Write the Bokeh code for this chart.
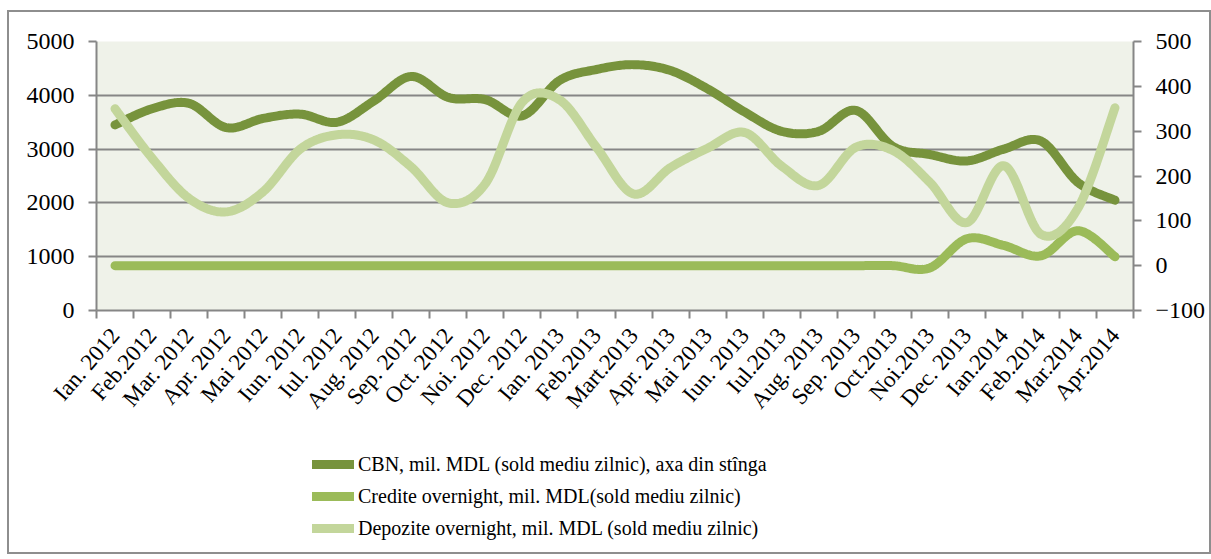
import numpy as np
from bokeh.plotting import figure
from bokeh.layouts import column
from bokeh.models import (Range1d, LinearAxis, FixedTicker, CustomJSTickFormatter,
                          Legend, LegendItem)
from bokeh.embed import file_html
from bokeh.resources import INLINE

months = ["Ian. 2012", "Feb.2012", "Mar. 2012", "Apr. 2012", "Mai 2012", "Iun. 2012",
          "Iul. 2012", "Aug. 2012", "Sep. 2012", "Oct. 2012", "Noi. 2012", "Dec. 2012",
          "Ian. 2013", "Feb.2013", "Mart.2013", "Apr. 2013", "Mai 2013", "Iun. 2013",
          "Iul.2013", "Aug. 2013", "Sep. 2013", "Oct.2013", "Noi.2013", "Dec. 2013",
          "Ian.2014", "Feb.2014", "Mar.2014", "Apr.2014"]

cbn = [3450, 3750, 3850, 3400, 3570, 3650, 3500, 3900, 4350, 3960, 3920, 3620,
       4275, 4480, 4570, 4460, 4120, 3690, 3330, 3330, 3720, 3050, 2900, 2780,
       3000, 3150, 2380, 2050]
credite = [0, 0, 0, 0, 0, 0, 0, 0, 0, 0, 0, 0,
           0, 0, 0, 0, 0, 0, 0, 0, 0, 0, -5, 60,
           45, 22, 78, 20]
depozite = [350, 240, 150, 120, 165, 260, 292, 280, 220, 140, 183, 365,
            370, 264, 160, 219, 262, 297, 222, 179, 264, 257, 186, 96,
            223, 70, 128, 352]

names = ["CBN, mil. MDL (sold mediu zilnic), axa din stînga",
         "Credite overnight, mil. MDL(sold mediu zilnic)",
         "Depozite overnight, mil. MDL (sold mediu zilnic)"]
colors = ["#77933c", "#9bbb59", "#c3d69b"]

FONT = "Liberation Serif"
GRAY = "#868686"
W = 1200


def smooth(xs, ys, n=24):
    xs = np.asarray(xs, float)
    ys = np.asarray(ys, float)
    P = np.column_stack([xs, ys])
    Pe = np.vstack([P[0], P, P[-1]])
    out = []
    t = np.linspace(0, 1, n)[:, None]
    for i in range(len(P) - 1):
        p0 = Pe[i + 1]
        p3 = Pe[i + 2]
        c1 = p0 + (Pe[i + 2] - Pe[i]) / 6.0
        c2 = p3 - (Pe[i + 3] - Pe[i + 1]) / 6.0
        seg = ((1 - t) ** 3) * p0 + 3 * ((1 - t) ** 2) * t * c1 + 3 * (1 - t) * t ** 2 * c2 + t ** 3 * p3
        out.append(seg if i == 0 else seg[1:])
    s = np.vstack(out)
    return s[:, 0], s[:, 1]


n = len(months)
xc = [i + 0.5 for i in range(n)]

p = figure(width=W, height=428, output_backend="svg", toolbar_location=None,
           x_range=Range1d(0, n), y_range=Range1d(0, 5000),
           x_axis_location=None, y_axis_location=None,
           min_border_left=87, min_border_right=W - 87 - 1037, min_border_top=29,
           min_border_bottom=130)
p.extra_y_ranges = {"right": Range1d(-100, 500)}
p.background_fill_color = "#eff2e9"
p.outline_line_color = None

yl = LinearAxis(ticker=FixedTicker(ticks=[0, 1000, 2000, 3000, 4000, 5000]))
yr = LinearAxis(y_range_name="right", ticker=FixedTicker(ticks=list(range(-100, 501, 100))))
xa = LinearAxis(ticker=FixedTicker(ticks=xc, minor_ticks=list(range(n + 1))),
                formatter=CustomJSTickFormatter(args=dict(labels=months),
                                                code="return labels[Math.floor(tick)] || '';"))
for ax in (yl, yr, xa):
    ax.axis_line_color = GRAY
    ax.axis_line_width = 2
    ax.major_tick_line_color = GRAY
    ax.major_tick_line_width = 2
    ax.major_tick_in = 0
    ax.major_tick_out = 8
    ax.minor_tick_line_color = None
    ax.major_label_text_font = FONT
    ax.major_label_text_font_size = "24px"
    ax.major_label_text_color = "#000000"
    ax.major_label_standoff = 14
xa.major_tick_line_color = None
xa.minor_tick_line_color = GRAY
xa.minor_tick_line_width = 2
xa.minor_tick_in = 0
xa.minor_tick_out = 8
xa.major_label_text_font_size = "23px"
xa.major_label_orientation = 0.86
xa.major_label_standoff = 13
p.add_layout(yl, "left")
p.add_layout(yr, "right")
p.add_layout(xa, "below")

p.xgrid.visible = False
p.ygrid.ticker = FixedTicker(ticks=[0, 1000, 2000, 3000, 4000, 5000])
p.ygrid.grid_line_color = GRAY
p.ygrid.grid_line_width = 2

sx, sy = smooth(xc, cbn)
p.line(sx, sy, line_color=colors[0], line_width=9, line_cap="round", line_join="round")
sx, sy = smooth(xc, credite)
p.line(sx, sy, line_color=colors[1], line_width=9, line_cap="round", line_join="round",
       y_range_name="right")
sx, sy = smooth(xc, depozite)
p.line(sx, sy, line_color=colors[2], line_width=9, line_cap="round", line_join="round",
       y_range_name="right")

# legend panel (separate strip under the chart)
p2 = figure(width=W, height=112, output_backend="svg", toolbar_location=None,
            x_range=Range1d(0, 1), y_range=Range1d(0, 1),
            x_axis_location=None, y_axis_location=None,
            min_border_left=0, min_border_right=0, min_border_top=0, min_border_bottom=0)
p2.outline_line_color = None
p2.xgrid.visible = False
p2.ygrid.visible = False
lr = [p2.line(x=np.array([np.nan]), y=np.array([np.nan]), line_color=c, line_width=9,
              line_cap="round") for c in colors]
legend = Legend(items=[LegendItem(label=names[i], renderers=[lr[i]]) for i in range(3)],
                location=(216, 12), orientation="vertical")
legend.label_text_font = FONT
legend.label_text_font_size = "20px"
legend.label_text_color = "#000000"
legend.glyph_width = 42
legend.glyph_height = 24
legend.label_standoff = 4
legend.spacing = 8
legend.padding = 0
legend.margin = 0
legend.border_line_color = None
legend.background_fill_alpha = 0
p2.add_layout(legend)

layout = column(p, p2, spacing=0, margin=(10, 0, 0, 7),
                styles={"border": "2px solid #8e8e8e"})

open("out.html", "w").write(file_html(layout, INLINE))
